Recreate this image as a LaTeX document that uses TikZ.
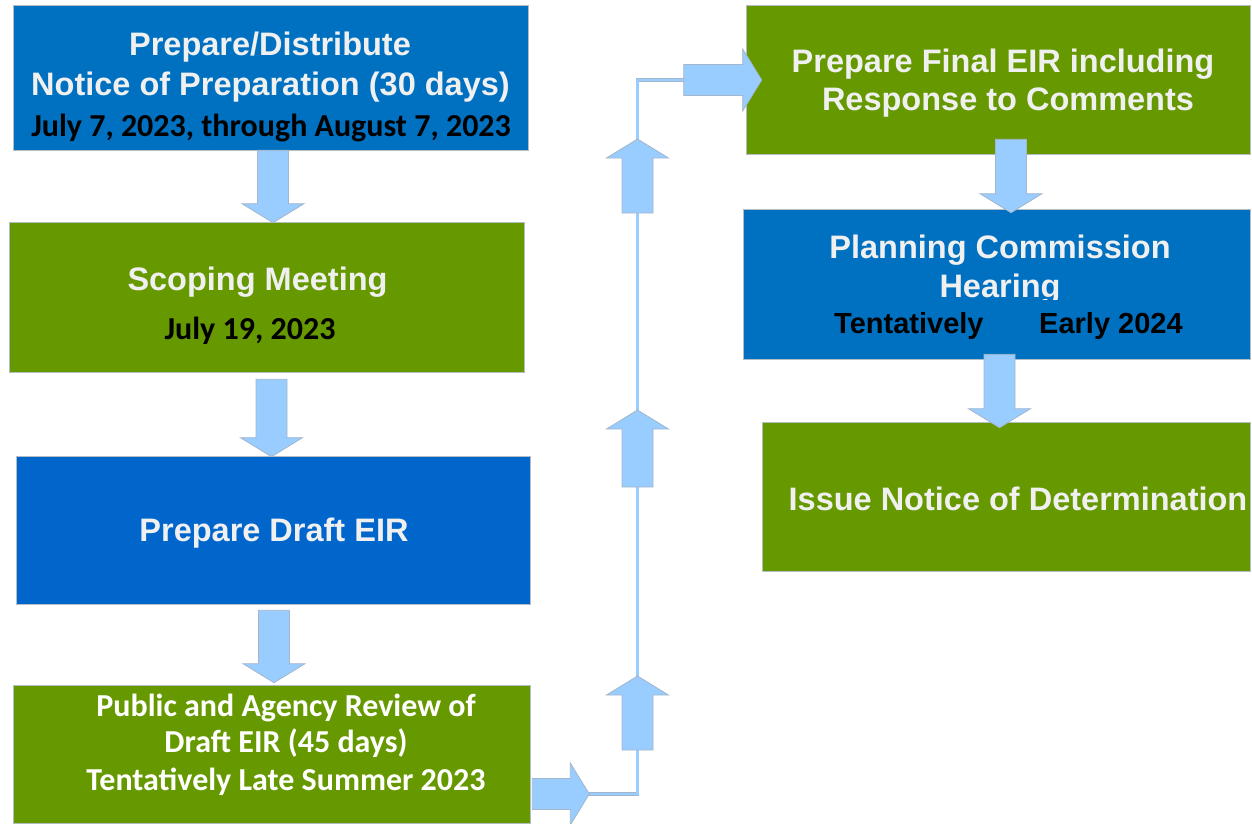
\documentclass[tikz,border=0pt]{standalone}
\usepackage{fontspec}
\setmainfont{Liberation Sans}
\newfontfamily\carlito{Carlito}
\usetikzlibrary{calc}

\definecolor{boxblue}{HTML}{0070C0}
\definecolor{draftblue}{HTML}{0066CC}
\definecolor{boxgreen}{HTML}{669900}
\definecolor{boxedge}{HTML}{B4BCC4}
\definecolor{arrowblue}{HTML}{99CCFF}
\definecolor{arrowedge}{HTML}{A3B6CB}
\definecolor{titlewhite}{HTML}{F0F0F0}

\tikzset{
  box/.style={rectangle, inner sep=0pt, draw=boxedge, line width=0.6pt},
  title/.style={anchor=base, inner sep=0pt, text=titlewhite,
    font=\bfseries\fontsize{32.5}{38}\selectfont},
  datewhite/.style={anchor=base, inner sep=0pt, text=white,
    font=\carlito\bfseries\fontsize{32}{38}\selectfont},
  dateblack/.style={datewhite, text=black},
  sansblack/.style={anchor=base west, inner sep=0pt, text=black,
    font=\bfseries\fontsize{29}{34}\selectfont},
  blockarrow/.style={fill=arrowblue, draw=arrowedge, line width=0.8pt},
  flowline/.style={draw=arrowedge, line width=0.7pt, double=arrowblue,
    double distance=2.2pt}
}

% block arrow from #1 to the tip #2 (shaft 31, head 62 wide, head 19 long)
\newcommand{\blockarrow}[2]{%
  \coordinate (hb) at ($(#2)!19pt!(#1)$);
  \draw[blockarrow]
    ($(#1)!15.5pt!90:(#2)$) -- ($(hb)!15.5pt!90:(#2)$) --
    ($(hb)!31pt!90:(#2)$) -- (#2) -- ($(hb)!31pt!-90:(#2)$) --
    ($(hb)!15.5pt!-90:(#2)$) -- ($(#1)!15.5pt!-90:(#2)$) -- cycle;
}

\begin{document}
\begin{tikzpicture}[x=1pt, y=-1pt]
\useasboundingbox (0,0) rectangle (1252,823);

% left column
\node[box, fill=boxblue, minimum width=515pt, minimum height=145pt] (nop) at (270.5,77.5) {};
\node[box, fill=boxgreen, minimum width=515pt, minimum height=150pt] (scope) at (266.5,297) {};
\node[box, fill=draftblue, minimum width=514pt, minimum height=148pt] (draft) at (273,530) {};
\node[box, fill=boxgreen, minimum width=517pt, minimum height=138pt] (review) at (271.5,754) {};

% right column
\node[box, fill=boxgreen, minimum width=504pt, minimum height=149pt] (final) at (998,79.5) {};
\node[box, fill=boxblue, minimum width=507pt, minimum height=150pt] (hearing) at (996.5,284) {};
\node[box, fill=boxgreen, minimum width=488pt, minimum height=149pt] (nod) at (1006,496.5) {};

% texts
\node[title] (t11) at (270,55) {Prepare/Distribute};
\node[title] (t12) at (270.5,95) {Notice of Preparation (30 days)};
\node[dateblack] (t13) at (271,136.5) {July 7, 2023, through August 7, 2023};

\node[title] (t21) at (257.5,290) {Scoping Meeting};
\node[dateblack] (t22) at (250,339.5) {July 19, 2023};

\node[title] (t31) at (274,541) {Prepare Draft EIR};

\node[datewhite] (t41) at (286,716) {Public and Agency Review of};
\node[datewhite] (t42) at (286,752.5) {Draft EIR (45 days)};
\node[datewhite] (t43) at (286,790) {Tentatively Late Summer 2023};

\node[title] (t51) at (1003,72) {Prepare Final EIR including};
\node[title] (t52) at (1008,110) {Response to Comments};

\node[title] (t61) at (1000,258.5) {Planning Commission};
\begin{scope}
  \clip (743,209) rectangle (1250,299);
  \node[title] (t62) at (1000,297) {Hearing};
\end{scope}
\node[sansblack] (t63) at (834,333.5) {Tentatively};
\node[sansblack] (t64) at (1039,333.5) {Early 2024};

\node[title] (t71) at (1018,510) {Issue Notice of Determination};

% connector points
\coordinate (a1s) at ($(nop.south)+(2.5,0)$);
\coordinate (a1e) at ($(scope.north)+(6.5,1)$);
\coordinate (a2s) at ($(scope.south)+(5,7)$);
\coordinate (a2e) at ($(draft.north)+(-1.5,1)$);
\coordinate (a3s) at ($(draft.south)+(1,6)$);
\coordinate (a3e) at ($(review.north)+(2.5,-2)$);
\coordinate (a4s) at ($(review.east)+(2,40)$);
\coordinate (a4e) at ($(review.east)+(59,40)$);
\coordinate (bend1) at (637.5,794);
\coordinate (bend2) at (637.5,80);
\coordinate (a5s) at ($(final.west)+(-62,0.5)$);
\coordinate (a5e) at ($(final.west)+(16,0.5)$);
\coordinate (u1s) at (637.5,750);
\coordinate (u1e) at (637.5,676);
\coordinate (u2s) at (637.5,487);
\coordinate (u2e) at (637.5,410);
\coordinate (u3s) at (637.5,213);
\coordinate (u3e) at (637.5,139);
\coordinate (a6s) at ($(final.south)+(13,-15)$);
\coordinate (a6e) at ($(hearing.north)+(14.5,4)$);
\coordinate (a7s) at ($(hearing.south)+(3,-5)$);
\coordinate (a7e) at ($(nod.north)+(-6.5,6)$);

% flow line from the review box up to the final EIR
\draw[flowline] (a4e) -- (bend1) -- (bend2) -- (a5s);

% block arrows
\blockarrow{a1s}{a1e}
\blockarrow{a2s}{a2e}
\blockarrow{a3s}{a3e}
\blockarrow{a4s}{a4e}
\blockarrow{u1s}{u1e}
\blockarrow{u2s}{u2e}
\blockarrow{u3s}{u3e}
\blockarrow{a5s}{a5e}
\blockarrow{a6s}{a6e}
\blockarrow{a7s}{a7e}
\end{tikzpicture}
\end{document}
